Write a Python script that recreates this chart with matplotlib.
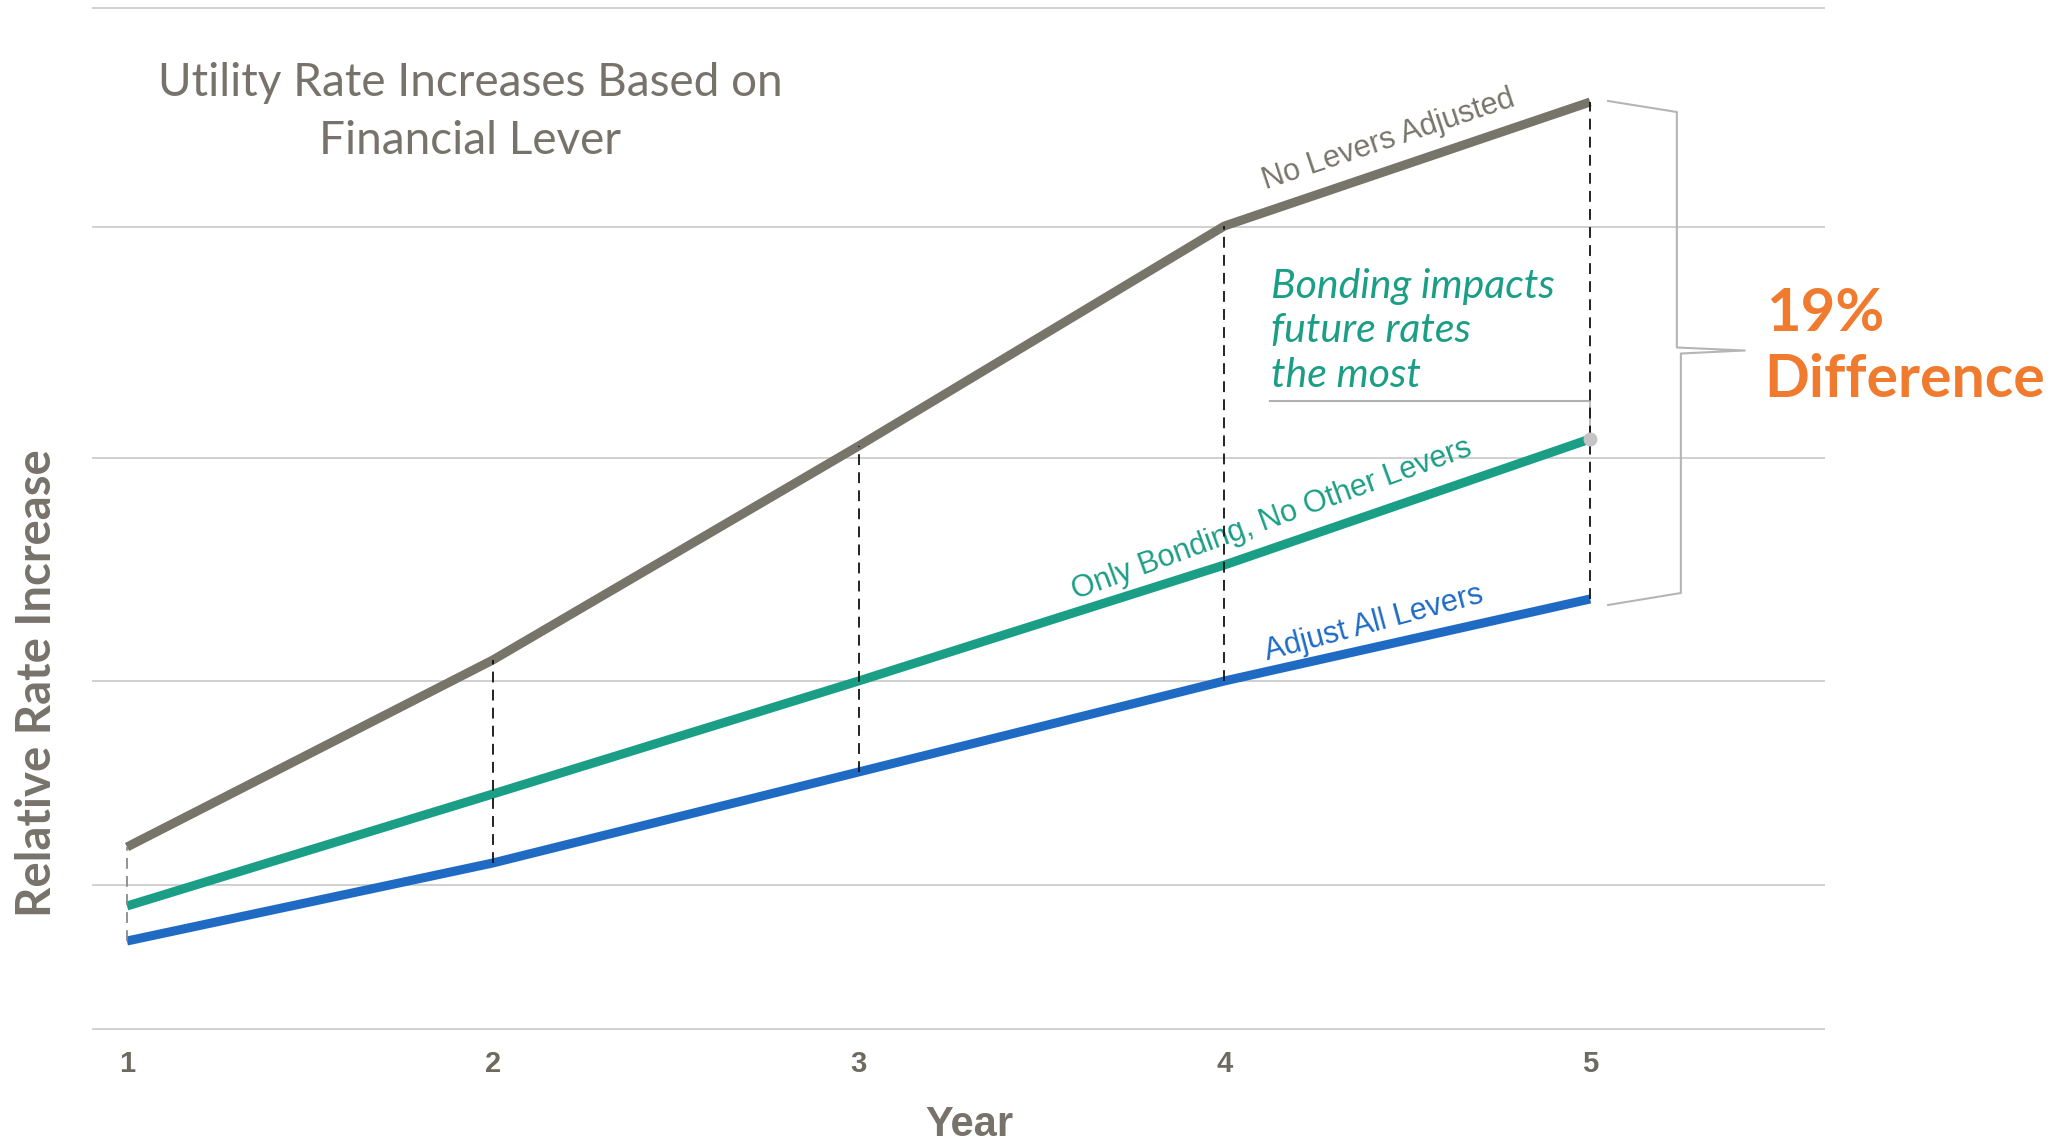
import matplotlib.pyplot as plt

# rate index by year for each lever scenario
years = [1, 2, 3, 4, 5]
no_levers = [18.2, 36.9, 58.3, 80.3, 92.7]
only_bonding = [12.3, 23.5, 34.8, 46.4, 59.0]
all_levers = [8.8, 16.6, 25.7, 34.8, 43.0]
grid_levels = [0, 14.4, 34.8, 57.1, 80.2, 102.1]
tick_labels = ['1', '2', '3', '4', '5']

GRAY = '#77756a'
TEAL = '#1b9e86'
BLUE = '#1f6bc4'
ORANGE = '#f07b2e'
TEXT = '#77736a'

fig = plt.figure(figsize=(20.59, 11.43), dpi=100)
ax = fig.add_axes([92 / 2059, 114 / 1143, 1733 / 2059, 1021 / 1143])
ax.set_xlim(0.9043, 5.642)
ax.set_ylim(0, 102.1)
for s in ax.spines.values():
    s.set_visible(False)
ax.set_yticks([])

ax.hlines(grid_levels, 0.9043, 5.642, color='#c8c8c8', lw=1.2, clip_on=False, zorder=1)

# dashed drop lines between top and bottom scenario (first one is lighter)
drop_colors = ['#8a8a8a', '#111111', '#111111', '#111111', '#111111']
ax.vlines(years, all_levers, no_levers, colors=drop_colors, lw=1.3,
          linestyles=(0, (6, 4)), zorder=4)

ax.plot(years, no_levers, color=GRAY, lw=6.5, solid_capstyle='butt', zorder=3)
ax.plot(years, only_bonding, color=TEAL, lw=6.5, solid_capstyle='butt', zorder=3)
ax.plot(years, all_levers, color=BLUE, lw=6.5, solid_capstyle='butt', zorder=3)

narrow = ['Liberation Sans Narrow', 'Liberation Sans', 'DejaVu Sans']
ax.text(4.45, 88.9, 'No Levers Adjusted', color=GRAY, family=narrow, fontsize=22,
        rotation=18.5, ha='center', va='center')
ax.text(4.13, 50.9, 'Only Bonding, No Other Levers', color=TEAL, family=narrow, fontsize=22,
        rotation=20, ha='center', va='center')
ax.text(4.41, 40.6, 'Adjust All Levers', color=BLUE, family=narrow, fontsize=22,
        rotation=15, ha='center', va='center')

# callout for the bonding scenario
ax.text(4.127, 69.8, 'Bonding impacts\nfuture rates\nthe most', color=TEAL,
        family='Lato', style='italic', fontsize=29.5, ha='left', va='center',
        linespacing=1.25)
ax.plot([4.125, 5.0], [62.85, 62.85], color='#b0b0b0', lw=1.5, zorder=2)
ax.plot([5.0, 5.0], [62.85, only_bonding[4]], color='#b0b0b0', lw=1.2, zorder=2)
ax.plot(5.0, only_bonding[4], 'o', color='#c4c4c4', ms=9, zorder=5)

# bracket spanning the year-5 spread
top, bot = no_levers[4], all_levers[4]
mid = (top + bot) / 2
bx = [5.049, 5.237, 5.237, 5.423, 5.248, 5.248, 5.049]
by = [top + 0.1, top - 1.0, mid + 0.3, mid, mid - 0.3, bot + 0.6, bot - 0.6]
ax.plot(bx, by, color='#b5b5b5', lw=1.5, clip_on=False, zorder=2)

fig.text(1766 / 2059, 1 - 314 / 1143, '19%', color=ORANGE, family='Lato',
         fontweight='bold', fontsize=43, ha='left', va='center')
fig.text(1764 / 2059, 1 - 380 / 1143, 'Difference', color=ORANGE, family='Lato',
         fontweight='bold', fontsize=42.5, ha='left', va='center')

fig.text(470 / 2059, 1 - 112 / 1143, 'Utility Rate Increases Based on\nFinancial Lever',
         color=TEXT, family='Lato', fontsize=33, ha='center', va='center',
         linespacing=1.5)

ax.set_xticks(years)
ax.set_xticklabels(tick_labels, family=narrow, fontweight='bold', fontsize=21, color='#6d6a60')
ax.tick_params(axis='x', length=0, pad=15)

fig.text(969 / 2059, 1 - 1125 / 1143, 'Year', color=TEXT, family='Liberation Sans',
         fontweight='bold', fontsize=30, ha='center', va='center')
fig.text(37 / 2059, 1 - 683 / 1143, 'Relative Rate Increase', color=TEXT, family='Lato',
         fontweight='bold', fontsize=34, rotation=90, ha='center', va='center')

fig.savefig('out.png', dpi=100, facecolor='white')
